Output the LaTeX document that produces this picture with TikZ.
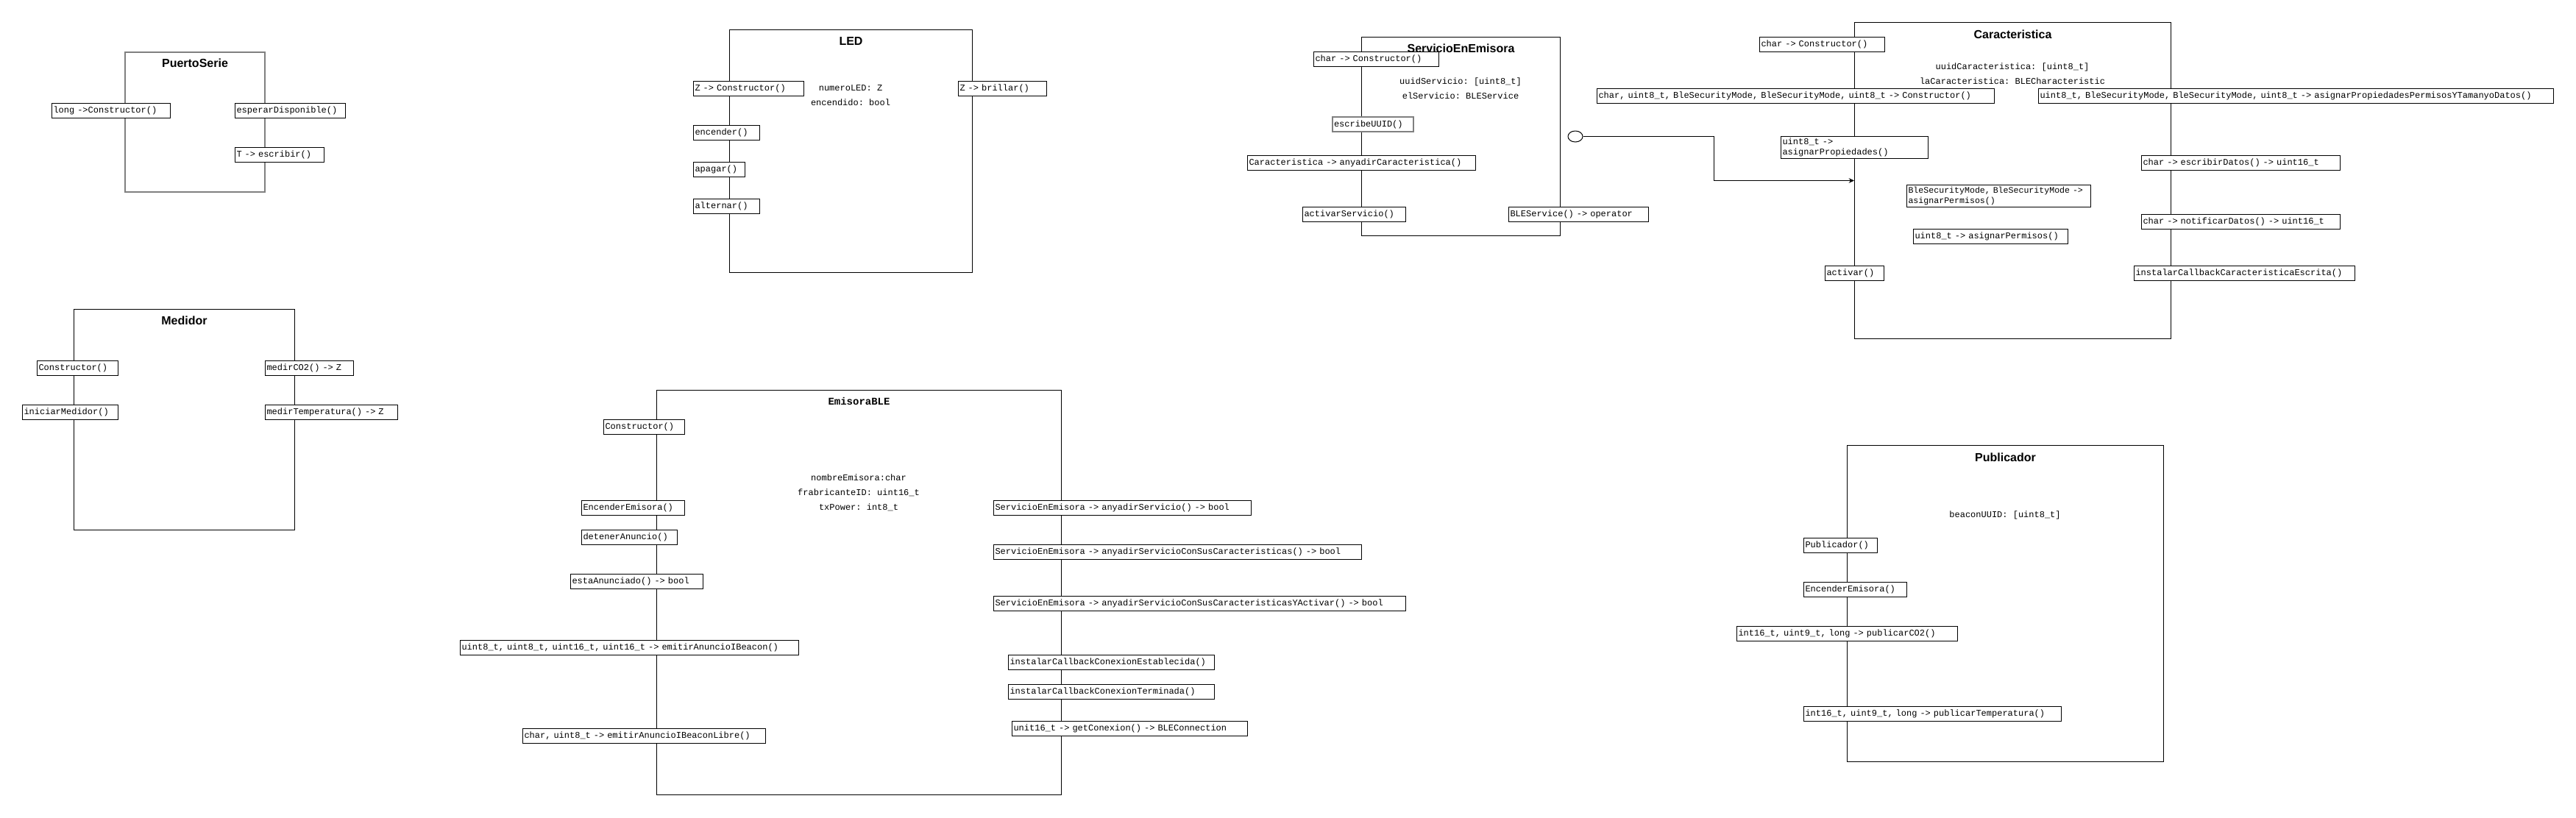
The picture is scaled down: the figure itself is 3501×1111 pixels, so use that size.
\documentclass[tikz,border=0pt]{standalone}
\usepackage{fontspec}
\setsansfont{Liberation Sans}
\setmonofont{Liberation Mono}
\definecolor{EdgeGray}{RGB}{128,128,128}
\newcommand\methfont{\ttfamily\fontsize{9}{10.5}\selectfont}
\usepackage{tikz}
\usetikzlibrary{arrows.meta,positioning,shapes.geometric,calc}

\begin{document}
\begin{tikzpicture}[x=0.75pt,y=-0.75pt,line width=0.75pt,
  cls/.style 2 args={draw,anchor=north west,inner sep=0pt,minimum width=#1*0.75pt,minimum height=#2*0.75pt},
  meth/.style={draw,fill=white,anchor=north west,font=\methfont,inner xsep=1.5pt,inner ysep=0pt,
    minimum height=15pt,text width=#1*0.75pt-3pt,align=left},
  ttl/.style={font=\sffamily\bfseries\fontsize{12}{14}\selectfont},
  attr/.style={font=\ttfamily\fontsize{9}{15}\selectfont,align=center}]
  \useasboundingbox (0,0) rectangle (3501,1111);

  \node[cls={190}{190},draw=EdgeGray,line width=1.5pt] (ps) at (169,70) {};
  \node[cls={330}{330}] (led) at (991,40) {};
  \node[cls={270}{270}] (srv) at (1850,50) {};
  \node[cls={430}{430}] (car) at (2520,30) {};
  \node[cls={300}{300}] (med) at (100,420) {};
  \node[cls={550}{550}] (emi) at (892,530) {};
  \node[cls={430}{430}] (pub) at (2510,605) {};

  \node[ttl] (psT) at ([yshift=-12pt]ps.north) {PuertoSerie};
  \node[ttl] (ledT) at ([yshift=-12pt]led.north) {LED};
  \node[ttl] (srvT) at ([yshift=-12pt]srv.north) {ServicioEnEmisora};
  \node[ttl] (carT) at ([yshift=-12.5pt]car.north) {Caracteristica};
  \node[ttl] (medT) at ([yshift=-12pt]med.north) {Medidor};
  \node[font=\ttfamily\bfseries\fontsize{10.5}{12}\selectfont] (emiT) at ([yshift=-11.25pt]emi.north) {EmisoraBLE};
  \node[ttl] (pubT) at ([yshift=-12.5pt]pub.north) {Publicador};

  \node[attr] (ledA) at (1156,130) {numeroLED: Z\\encendido: bool};
  \node[attr] (srvA) at (1985,120) {uuidServicio: [uint8\_t]\\elServicio: BLEService};
  \node[attr] (carA) at (2735,100) {uuidCaracteristica: [uint8\_t]\\laCaracteristica: BLECharacteristic};
  \node[attr] (emiA) at (1167,670) {nombreEmisora:char\\frabricanteID: uint16\_t\\txPower: int8\_t};
  \node[attr] (pubA) at (2725,700) {beaconUUID: [uint8\_t]};

  \node[draw,ellipse,inner sep=0pt,minimum width=15pt,minimum height=11.25pt] (srvOut) at (2141,185.5) {};
  \draw[-{Stealth[length=5.5pt,width=5pt]}] (srvOut.east) -- ++(178,0) |- (car.west);

  \foreach \nm/\x/\y/\w/\txt in {
      psCtor/70/140/161/{long ->Constructor()},
      psEsp/319/140/150/{esperarDisponible()},
      psEsc/319/200/121/{T -> escribir()}}
    \node[meth=\w] (\nm) at (\x,\y) {\txt};

  \foreach \nm/\x/\y/\w/\txt in {
      ledCtor/942/110/150/{Z -> Constructor()},
      ledBri/1302/110/120/{Z -> brillar()},
      ledEnc/942/170/90/{encender()},
      ledApa/942/220/70/{apagar()},
      ledAlt/942/270/90/{alternar()}}
    \node[meth=\w] (\nm) at (\x,\y) {\txt};

  \foreach \nm/\x/\y/\w/\txt in {
      srvCtor/1785/70/170/{char -> Constructor()},
      srvAdd/1695/211/310/{Caracteristica -> anyadirCaracteristica()},
      srvAct/1770/281/140/{activarServicio()},
      srvOp/2050/281/190/{BLEService() -> operator}}
    \node[meth=\w] (\nm) at (\x,\y) {\txt};
  \node[meth=110,draw=EdgeGray,line width=1.5pt] (srvUuid) at (1810,158) {escribeUUID()};

  \foreach \nm/\x/\y/\w/\txt in {
      carCtor/2391/50/170/{char -> Constructor()},
      carCtorB/2170/120/540/{char, uint8\_t, BleSecurityMode, BleSecurityMode, uint8\_t -> Constructor()},
      carAll/2770/120/700/{uint8\_t, BleSecurityMode, BleSecurityMode, uint8\_t -> asignarPropiedadesPermisosYTamanyoDatos()},
      carPerm/2600/311/210/{uint8\_t -> asignarPermisos()},
      carAct/2480/361/80/{activar()},
      carEsc/2910/211/270/{char -> escribirDatos() -> uint16\_t},
      carNot/2910/291/270/{char -> notificarDatos() -> uint16\_t},
      carCb/2900/361/300/{instalarCallbackCaracteristicaEscrita()}}
    \node[meth=\w] (\nm) at (\x,\y) {\txt};
  \node[meth=200,minimum height=22.5pt] (carProp) at (2420,185) {uint8\_t ->\\asignarPropiedades()};
  \node[meth=250,minimum height=22.5pt,font=\ttfamily\fontsize{8.7}{10.5}\selectfont] (carPermB) at (2591,251)
    {BleSecurityMode, BleSecurityMode ->\\asignarPermisos()};

  \foreach \nm/\x/\y/\w/\txt in {
      medCtor/50/490/110/{Constructor()},
      medIni/30/550/130/{iniciarMedidor()},
      medCO/360/490/120/{medirCO2() -> Z},
      medTmp/360/550/180/{medirTemperatura() -> Z}}
    \node[meth=\w] (\nm) at (\x,\y) {\txt};

  \foreach \nm/\x/\y/\w/\txt in {
      emiCtor/820/570/110/{Constructor()},
      emiOn/790/680/140/{EncenderEmisora()},
      emiStop/790/720/130/{detenerAnuncio()},
      emiEsta/775/780/180/{estaAnunciado() -> bool},
      emiIB/625/870/460/{uint8\_t, uint8\_t, uint16\_t, uint16\_t -> emitirAnuncioIBeacon()},
      emiLib/710/990/330/{char, uint8\_t -> emitirAnuncioIBeaconLibre()},
      emiSrv/1350/680/350/{ServicioEnEmisora -> anyadirServicio() -> bool},
      emiSrvC/1350/740/500/{ServicioEnEmisora -> anyadirServicioConSusCaracteristicas() -> bool},
      emiSrvA/1350/810/560/{ServicioEnEmisora -> anyadirServicioConSusCaracteristicasYActivar() -> bool},
      emiCbE/1370/890/280/{instalarCallbackConexionEstablecida()},
      emiCbT/1370/930/280/{instalarCallbackConexionTerminada()},
      emiCon/1375/980/320/{unit16\_t -> getConexion() -> BLEConnection}}
    \node[meth=\w] (\nm) at (\x,\y) {\txt};

  \foreach \nm/\x/\y/\w/\txt in {
      pubCtor/2451/731/100/{Publicador()},
      pubOn/2451/791/140/{EncenderEmisora()},
      pubCO/2360/851/300/{int16\_t, uint9\_t, long -> publicarCO2()},
      pubTmp/2451/960/350/{int16\_t, uint9\_t, long -> publicarTemperatura()}}
    \node[meth=\w] (\nm) at (\x,\y) {\txt};
\end{tikzpicture}
\end{document}
